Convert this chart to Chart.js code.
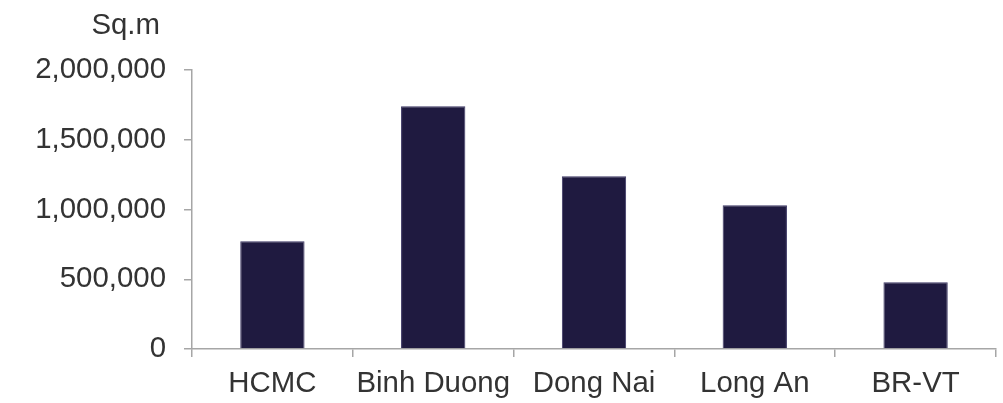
<!DOCTYPE html>
<html>
<head>
<meta charset="utf-8">
<script src="https://cdn.jsdelivr.net/npm/chart.js@4.4.0/dist/chart.umd.min.js"></script>
<style>
  html, body { margin: 0; padding: 0; background: #fff; }
  #wrap { width: 1003px; height: 403px; position: relative; }
</style>
</head>
<body>
<div id="wrap"><canvas id="chart"></canvas></div>
<script>
// floor area by province
const provinces = ["HCMC", "Binh Duong", "Dong Nai", "Long An", "BR-VT"]
const areaSqm = [773000, 1740000, 1238000, 1030000, 479000]
const yTicks = [0, 500000, 1000000, 1500000, 2000000]
const unitLabel = "Sq.m"

const axisGray = "#a6a6a6"
const textColor = "#333333"
const font = { family: "'Liberation Sans', Arial, sans-serif", size: 29.4 }

// unit caption above the value axis
const unitPlugin = {
    id: "unitCaption",
    afterDraw(chart){
        const { ctx, scales } = chart
        ctx.save()
        ctx.font = `${font.size}px ${font.family}`
        ctx.fillStyle = textColor
        ctx.textAlign = "right"
        ctx.textBaseline = "middle"
        ctx.fillText(unitLabel, scales.y.right - 32, 26)
        ctx.restore()
    }
}

new Chart(document.getElementById("chart"), {
    type: "bar",
    data: {
        labels: provinces,
        datasets: [{
            data: areaSqm,
            backgroundColor: "#1f1a40",
            borderColor: "#3b3663",
            borderWidth: 1,
            categoryPercentage: 1,
            barPercentage: 0.4,
        }]
    },
    options: {
        responsive: true,
        maintainAspectRatio: false,
        animation: false,
        layout: { padding: { top: 70, right: 7, bottom: 0, left: 0 } },
        plugins: {
            legend: { display: false },
            tooltip: { enabled: false },
        },
        scales: {
            x: {
                afterFit(scale){ scale.height = 54 },
                grid: {
                    offset: true,
                    drawOnChartArea: false,
                    drawTicks: true,
                    tickLength: 8,
                    color: axisGray,
                    lineWidth: 1.5,
                },
                border: { display: true, color: axisGray, width: 1.5 },
                ticks: { color: textColor, font: font, padding: 9, maxRotation: 0 },
            },
            y: {
                min: 0,
                max: 2000000,
                afterFit(scale){ scale.width = 192 },
                afterBuildTicks(scale){ scale.ticks = yTicks.map(v => ({ value: v })) },
                grid: {
                    drawOnChartArea: false,
                    drawTicks: true,
                    tickLength: 8,
                    color: axisGray,
                    lineWidth: 1.5,
                },
                border: { display: true, color: axisGray, width: 1.5 },
                ticks: {
                    color: textColor,
                    font: font,
                    padding: 18,
                    callback: v => v.toLocaleString("en-US"),
                },
            },
        },
    },
    plugins: [unitPlugin],
})
</script>
</body>
</html>
